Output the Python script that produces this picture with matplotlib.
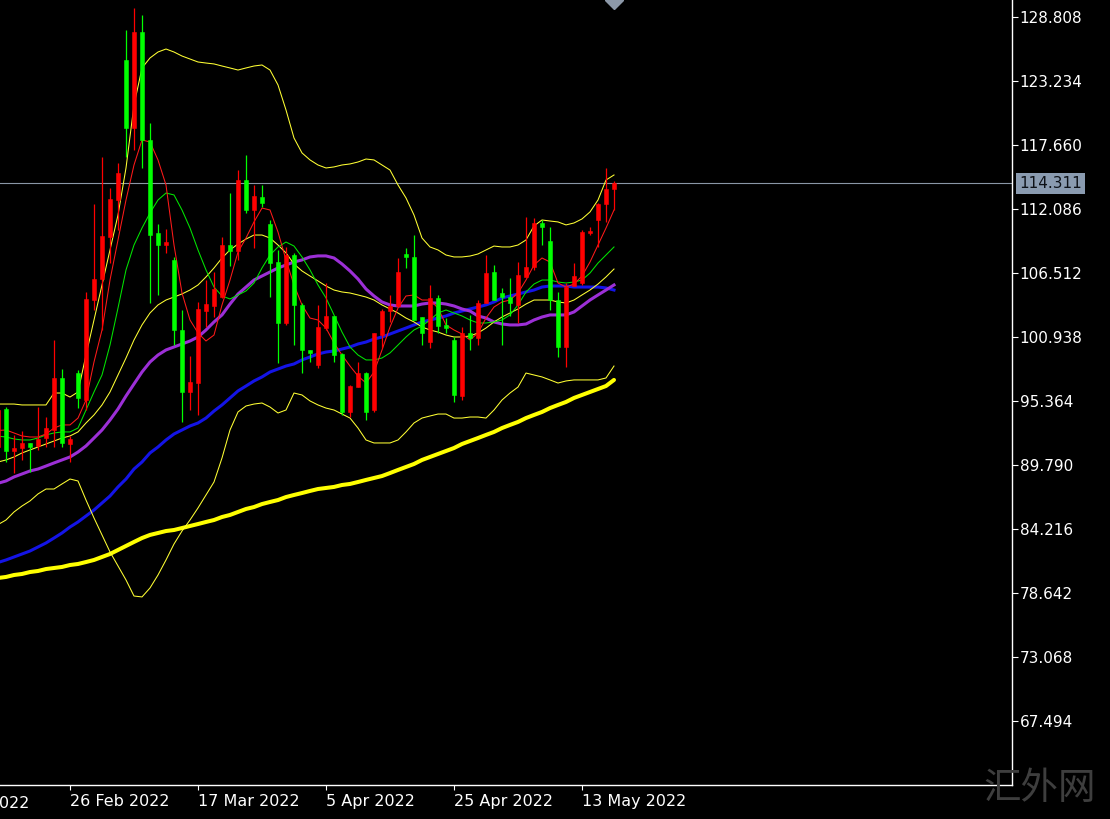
import matplotlib
matplotlib.use("Agg")
import matplotlib.pyplot as plt
import matplotlib.transforms as mtrans
import numpy as np

# ---------------- data (bar index -1 .. 76) ----------------
opens = [91.36, 94.67, 91.01, 91.27, 91.71, 91.45, 92.14, 92.84, 97.37, 91.62,
         97.80, 95.45, 104.16, 105.99, 109.65, 112.87, 125.06, 119.14, 127.50, 118.10,
         110.00, 108.95, 107.65, 101.55, 96.15, 96.93, 103.20, 103.64, 104.42, 108.95,
         108.43, 114.61, 112.00, 113.13, 110.78, 107.47, 102.16, 108.08, 103.73, 99.81,
         98.50, 101.72, 102.77, 99.46, 94.41, 96.58, 97.80, 94.58, 101.11, 103.20,
         103.64, 108.17, 107.91, 102.68, 100.50, 104.34, 101.99, 100.68, 95.80, 101.29,
         100.85, 103.90, 106.60, 104.77, 104.42, 103.73, 106.17, 107.04, 110.87, 109.30,
         104.16, 100.07, 105.38, 105.64, 110.00, 111.13, 112.52, 113.83]
highs = [95.02, 94.84, 92.41, 92.75, 91.71, 94.84, 93.97, 100.68, 98.15, 92.32,
         98.06, 104.86, 112.52, 116.62, 113.92, 116.09, 127.68, 129.59, 128.98, 119.58,
         110.78, 110.35, 107.91, 103.29, 99.28, 103.99, 105.90, 106.60, 109.65, 113.48,
         115.48, 116.79, 114.18, 114.18, 111.13, 108.52, 108.78, 108.26, 103.90, 99.81,
         103.73, 105.64, 102.77, 99.55, 96.76, 98.76, 97.89, 101.29, 103.38, 104.60,
         107.82, 108.69, 109.82, 102.68, 105.47, 104.60, 102.59, 100.94, 101.81, 102.86,
         104.16, 108.08, 107.21, 105.21, 106.08, 107.47, 111.39, 111.30, 111.13, 110.52,
         104.86, 105.64, 107.38, 110.26, 110.52, 112.61, 115.66, 114.53]
lows = [90.92, 90.05, 89.09, 90.23, 89.18, 91.10, 91.36, 91.36, 91.36, 90.05,
        94.75, 94.58, 103.29, 101.55, 107.38, 110.26, 116.62, 117.23, 115.66, 103.90,
        104.60, 108.26, 100.24, 93.54, 94.58, 94.15, 101.81, 102.68, 104.34, 107.12,
        107.65, 111.74, 108.69, 112.26, 104.42, 98.67, 101.99, 100.24, 97.80, 98.76,
        98.24, 101.55, 98.76, 94.15, 93.97, 96.58, 93.71, 94.41, 99.98, 102.25,
        103.55, 106.95, 102.42, 100.24, 99.98, 101.29, 101.29, 95.28, 95.45, 99.81,
        100.24, 103.90, 104.16, 100.24, 102.77, 102.16, 106.17, 106.78, 108.95, 103.29,
        99.20, 98.33, 105.38, 105.47, 109.82, 108.78, 110.96, 112.00]
closes = [94.58, 91.01, 91.27, 91.71, 91.36, 92.06, 93.01, 97.37, 91.71, 92.06,
          95.63, 104.25, 105.99, 109.73, 112.96, 115.22, 119.14, 127.50, 118.10, 109.82,
          108.95, 109.21, 101.55, 96.15, 97.02, 103.38, 103.81, 105.12, 108.95, 108.43,
          114.61, 112.00, 113.22, 112.61, 107.38, 102.16, 108.08, 103.73, 99.81, 99.55,
          101.81, 102.77, 99.37, 94.41, 96.67, 97.80, 94.41, 101.29, 103.20, 103.64,
          106.60, 107.91, 102.42, 101.29, 104.34, 101.90, 101.72, 95.89, 101.29, 100.85,
          103.90, 106.51, 104.16, 104.42, 103.90, 106.34, 107.04, 110.87, 110.52, 104.16,
          100.07, 105.29, 106.25, 110.08, 110.17, 112.52, 113.83, 114.311]

ma_red = [92.80, 92.84, 92.58, 92.32, 92.23, 92.23, 92.49, 93.01, 93.28, 93.28,
          93.88, 95.45, 98.76, 101.55, 105.90, 109.39, 112.87, 115.92, 118.10, 117.92,
          116.36, 114.18, 108.95, 104.77, 102.42, 101.29, 100.59, 101.11, 103.73, 105.90,
          108.34, 109.56, 110.96, 112.17, 112.00, 110.08, 107.65, 105.47, 103.73, 102.59,
          102.42, 101.72, 100.42, 99.37, 98.41, 97.54, 96.93, 97.89, 99.81, 101.81,
          103.46, 104.51, 104.60, 104.16, 104.16, 103.46, 101.99, 101.55, 101.20, 100.68,
          101.29, 102.59, 103.55, 103.99, 104.16, 104.77, 105.90, 107.21, 107.82, 107.47,
          105.64, 105.29, 105.55, 106.25, 107.47, 108.95, 110.43, 112.00]
ma_green = [92.30, 92.23, 92.06, 91.97, 91.97, 92.14, 92.41, 92.58, 92.67, 92.67,
            93.01, 94.58, 96.15, 97.63, 100.24, 103.46, 106.78, 108.95, 110.43, 111.74,
            112.87, 113.48, 113.31, 112.00, 110.43, 108.52, 106.78, 105.29, 104.51, 104.25,
            104.60, 104.95, 105.64, 106.95, 108.08, 108.78, 109.21, 108.86, 107.91, 106.78,
            105.47, 104.34, 102.86, 101.37, 100.07, 99.37, 98.94, 98.94, 99.11, 99.55,
            100.24, 100.94, 101.55, 101.90, 102.42, 103.03, 103.29, 103.03, 102.77, 102.42,
            102.16, 102.16, 102.25, 102.42, 102.86, 103.73, 104.86, 105.55, 105.90, 105.90,
            105.73, 105.64, 105.73, 105.90, 106.51, 107.38, 108.08, 108.78]
bb_upper = [95.10, 95.10, 95.10, 95.02, 95.02, 95.02, 95.02, 96.06, 96.06, 95.71,
            96.15, 99.37, 102.42, 105.47, 108.52, 111.56, 115.66, 121.14, 124.37, 125.24,
            125.76, 126.02, 125.76, 125.41, 125.15, 124.89, 124.80, 124.72, 124.54, 124.37,
            124.19, 124.37, 124.54, 124.63, 124.19, 122.89, 120.71, 118.27, 116.97, 116.36,
            115.92, 115.66, 115.75, 115.92, 116.01, 116.18, 116.44, 116.36, 115.92, 115.48,
            114.18, 113.05, 111.56, 109.56, 108.78, 108.52, 108.08, 107.91, 107.91, 107.99,
            108.17, 108.52, 108.86, 108.78, 108.78, 108.95, 109.39, 110.61, 111.13, 111.04,
            110.96, 110.70, 110.87, 111.22, 111.83, 112.87, 114.61, 115.05]
bb_middle = [90.05, 90.23, 90.49, 90.84, 91.10, 91.36, 91.62, 91.88, 92.14, 92.32,
             92.67, 93.45, 94.15, 95.02, 96.15, 97.63, 99.11, 100.68, 101.99, 103.03,
             103.73, 104.16, 104.42, 104.69, 105.03, 105.47, 106.17, 106.95, 107.82, 108.52,
             109.04, 109.47, 109.82, 109.82, 109.56, 108.95, 108.26, 107.30, 106.69, 106.25,
             105.82, 105.38, 105.03, 104.86, 104.77, 104.60, 104.42, 104.16, 103.73, 103.38,
             103.03, 102.59, 102.25, 101.81, 101.55, 101.37, 101.11, 100.94, 100.94, 101.03,
             101.29, 101.72, 102.25, 102.68, 103.03, 103.38, 103.81, 104.16, 104.16, 104.16,
             103.99, 103.90, 104.16, 104.60, 105.03, 105.55, 106.17, 106.86]
bb_lower = [84.60, 85.00, 85.70, 86.22, 86.66, 87.27, 87.70, 87.70, 88.14, 88.57,
            88.40, 86.74, 85.18, 83.70, 82.22, 81.00, 79.78, 78.38, 78.30, 79.08,
            80.21, 81.52, 82.91, 84.04, 85.00, 86.05, 87.18, 88.31, 90.40, 92.84,
            94.41, 94.93, 95.10, 95.19, 94.84, 94.32, 94.58, 96.06, 95.89, 95.37,
            95.02, 94.75, 94.58, 94.23, 93.88, 93.01, 91.97, 91.71, 91.71, 91.71,
            91.97, 92.67, 93.45, 93.88, 94.06, 94.23, 94.23, 93.88, 93.88, 93.97,
            93.97, 93.88, 94.58, 95.45, 96.06, 96.58, 97.80, 97.63, 97.46, 97.20,
            96.93, 97.11, 97.20, 97.20, 97.20, 97.20, 97.37, 98.41]
ma_purple = [88.20, 88.40, 88.75, 89.01, 89.27, 89.44, 89.70, 89.97, 90.23, 90.49,
             90.92, 91.45, 92.14, 92.84, 93.71, 94.67, 95.80, 96.85, 97.89, 98.76,
             99.37, 99.81, 100.07, 100.33, 100.59, 100.94, 101.55, 102.25, 102.86, 103.81,
             104.68, 105.29, 105.90, 106.25, 106.60, 106.95, 107.21, 107.47, 107.65, 107.91,
             108.00, 108.00, 107.82, 107.30, 106.69, 105.99, 105.12, 104.51, 103.99, 103.73,
             103.64, 103.64, 103.64, 103.81, 103.90, 103.90, 103.81, 103.64, 103.38, 103.20,
             102.77, 102.59, 102.25, 102.07, 101.99, 101.99, 102.07, 102.42, 102.68, 102.86,
             102.86, 102.86, 103.12, 103.64, 104.16, 104.60, 105.03, 105.47]
ma_blue = [81.30, 81.52, 81.78, 82.04, 82.30, 82.65, 83.00, 83.43, 83.87, 84.39,
           84.83, 85.35, 85.87, 86.48, 87.09, 87.88, 88.57, 89.44, 90.05, 90.84,
           91.36, 91.97, 92.49, 92.84, 93.19, 93.45, 93.88, 94.49, 95.02, 95.63,
           96.24, 96.67, 97.11, 97.46, 97.89, 98.15, 98.41, 98.59, 98.94, 99.20,
           99.46, 99.63, 99.72, 99.89, 100.07, 100.33, 100.50, 100.76, 100.94, 101.20,
           101.46, 101.72, 101.99, 102.25, 102.42, 102.59, 102.77, 103.03, 103.20, 103.38,
           103.55, 103.73, 103.99, 104.34, 104.51, 104.68, 104.86, 105.03, 105.29, 105.38,
           105.38, 105.38, 105.29, 105.29, 105.29, 105.29, 105.21, 105.03]
ma_yellow = [79.95, 80.04, 80.21, 80.30, 80.47, 80.56, 80.73, 80.82, 80.91, 81.08,
             81.17, 81.34, 81.52, 81.78, 82.04, 82.39, 82.74, 83.09, 83.43, 83.70,
             83.87, 84.04, 84.13, 84.30, 84.48, 84.65, 84.83, 85.00, 85.26, 85.44,
             85.70, 85.96, 86.13, 86.39, 86.57, 86.74, 87.00, 87.18, 87.35, 87.53,
             87.70, 87.79, 87.88, 88.05, 88.14, 88.31, 88.49, 88.66, 88.83, 89.09,
             89.36, 89.62, 89.88, 90.23, 90.49, 90.75, 91.01, 91.27, 91.62, 91.88,
             92.14, 92.41, 92.67, 93.01, 93.28, 93.54, 93.88, 94.15, 94.41, 94.75,
             95.02, 95.28, 95.63, 95.89, 96.15, 96.41, 96.67, 97.20]

tick_bars = [8, 24, 40, 56, 72]
tick_dates = ["26 Feb 2022", "17 Mar 2022", "5 Apr 2022", "25 Apr 2022", "13 May 2022"]
prev_date = "7 Feb 2022"
prev_bar = -8
price_ticks = [128.808, 123.234, 117.660, 112.086, 106.512, 100.938,
               95.364, 89.790, 84.216, 78.642, 73.068, 67.494]
last_price = 114.311

# ---------------- drawing ----------------
W, H = 1110, 819
fig = plt.figure(figsize=(W / 100, H / 100), dpi=100, facecolor="black")
ax = fig.add_axes([0, 34 / H, 1012 / W, 785 / H])
ax.set_facecolor("black")

idx = np.arange(-1, -1 + len(opens))
o = np.array(opens); c = np.array(closes)
hi = np.array(highs); lo = np.array(lows)
up = c >= o
cols = np.where(up, "#ff0000", "#00ff00")

# indicator lines
ax.plot(idx, ma_yellow, color="#ffff00", lw=2.9, zorder=2, solid_capstyle="round")
ax.plot(idx, ma_blue, color="#1414e6", lw=2.2, zorder=2)
ax.plot(idx, ma_purple, color="#9c2fd6", lw=2.2, zorder=2)
for band in (bb_upper, bb_middle, bb_lower):
    ax.plot(idx, band, color="#ffff33", lw=0.75, zorder=2)
ax.plot(idx, ma_green, color="#00e600", lw=0.75, zorder=2)
ax.plot(idx, ma_red, color="#ff1a1a", lw=0.75, zorder=2)

# last price line
ax.axhline(last_price, color="#8a96a6", lw=0.8, zorder=1)

# candles
ax.vlines(idx, lo, hi, colors=cols, lw=0.9, zorder=3)
ax.bar(idx, np.abs(c - o), bottom=np.minimum(o, c), width=0.62,
       color=cols, edgecolor=cols, linewidth=0.4, zorder=4)

# chart shift marker at top
ytop = 130.289
ax.plot([76], [ytop], marker="D", ms=9, color="#8c98a8", zorder=5, clip_on=True)

ax.set_xlim(-0.75, 125.75)
ax.set_ylim(61.921, ytop)

for s in ("top", "left"):
    ax.spines[s].set_visible(False)
for s in ("right", "bottom"):
    ax.spines[s].set_color("white")
    ax.spines[s].set_linewidth(1.0)

ax.yaxis.tick_right()
ax.set_yticks(price_ticks)
ax.set_yticklabels([f"{v:.3f}" for v in price_ticks])
ax.tick_params(axis="y", colors="white", labelcolor="white", length=4, width=0.8,
               pad=1.5, labelsize=11)
ax.set_xticks(tick_bars)
ax.set_xticklabels(tick_dates, ha="left")
ax.tick_params(axis="x", colors="white", labelcolor="white", length=3.5, width=0.8,
               pad=3, labelsize=11.5)

tr = mtrans.blended_transform_factory(ax.transData, ax.transAxes)
ax.text(prev_bar - 0.25, -10.5 / 785, prev_date, transform=tr, ha="left", va="top",
        color="white", fontsize=11.5, clip_on=False)

# last price label box
trp = mtrans.blended_transform_factory(ax.transAxes, ax.transData)
ax.text(1 + 7 / 1012, last_price, f"{last_price:.3f}", transform=trp, ha="left",
        va="center", fontsize=11, color="#0d1117", clip_on=False,
        bbox=dict(boxstyle="square,pad=0.22", facecolor="#8a9bb0", edgecolor="none"))

# watermark
fig.text(1040 / W, 1 - 789 / H, "汇外网", fontsize=27, color="#3e3e3e",
         family=["Noto Sans CJK SC", "DejaVu Sans"], ha="center", va="center")

fig.savefig("out.png", dpi=100, facecolor="black")
